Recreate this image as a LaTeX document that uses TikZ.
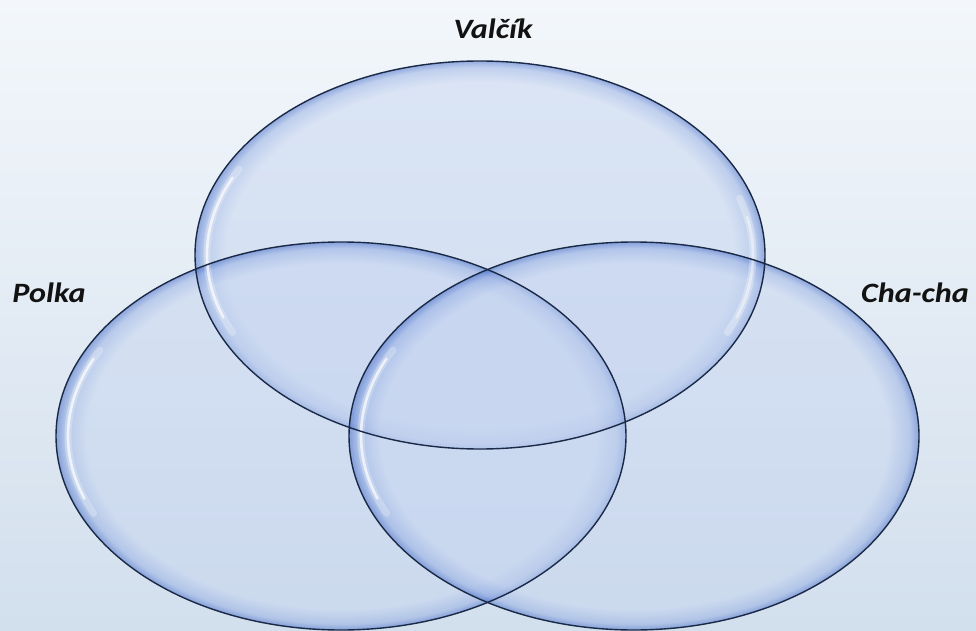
\documentclass[tikz,border=0pt]{standalone}
\usepackage{fontspec}
\setmainfont{Carlito}
\newfontfamily\lblfont[FakeStretch=1.15]{Carlito}
\usetikzlibrary{shapes.geometric}
\definecolor{bgtop}{HTML}{F3F7FB}
\definecolor{bgbot}{HTML}{D2DFED}
\definecolor{glin}{HTML}{C5D4F0}
\definecolor{glmid}{HTML}{8DA8E2}
\definecolor{glout}{HTML}{2F5BC2}
\definecolor{edge}{HTML}{1A2946}
\definecolor{txt}{HTML}{121212}
\pgfdeclareradialshading{glass}{\pgfpoint{0bp}{0bp}}{color(0bp)=(glin); color(22.3bp)=(glin); color(24.2bp)=(glmid); color(25bp)=(glout); color(50bp)=(glout)}
\tikzset{
  vennfill/.style={ellipse, inner sep=0pt, shade, shading=glass, fill opacity=0.48, minimum width=570pt, minimum height=388pt},
  vennline/.style={ellipse, inner sep=0pt, draw=edge, line width=1.4pt, minimum width=570pt, minimum height=388pt},
  hlsoft/.style={white, line width=7pt, line cap=round, opacity=0.25},
  hl/.style={white, line width=2.6pt, line cap=round, opacity=0.7},
  lbl/.style={text=txt, font=\lblfont\fontsize{28}{32}\selectfont\bfseries\itshape, inner sep=0pt}
}
\begin{document}
\begin{tikzpicture}[x=1pt,y=1pt]
\useasboundingbox (0,0) rectangle (976,630);
\shade[top color=bgtop, bottom color=bgbot] (0,0) rectangle (976,630);
% fills
\node[vennfill] (fv) at (480,375) {};
\node[vennfill] (fp) at (341,194) {};
\node[vennfill] (fc) at (634,194) {};
% highlights (left sides)
\foreach \cx/\cy in {480/375, 341/194, 634/194}{
  \draw[hlsoft] (\cx,\cy) ++(152:273pt and 183pt) arc[start angle=152, end angle=205, x radius=273pt, y radius=183pt];
  \draw[hl] (\cx,\cy) ++(155:273pt and 183pt) arc[start angle=155, end angle=200, x radius=273pt, y radius=183pt];
}
% highlight (right side of top ellipse)
\draw[hlsoft, opacity=0.3] (480,375) ++(-25:273pt and 183pt) arc[start angle=-25, end angle=18, x radius=273pt, y radius=183pt];
\draw[hl, opacity=0.45] (480,375) ++(-20:273pt and 183pt) arc[start angle=-20, end angle=12, x radius=273pt, y radius=183pt];
% outlines
\node[vennline] (valcik) at (480,375) {};
\node[vennline] (polka) at (341,194) {};
\node[vennline] (chacha) at (634,194) {};
% labels
\node[lbl] (lv) at (493,601) {Valčík};
\node[lbl] (lp) at (49,337) {Polka};
\node[lbl] (lc) at (915,337) {Cha-cha};
\end{tikzpicture}
\end{document}
